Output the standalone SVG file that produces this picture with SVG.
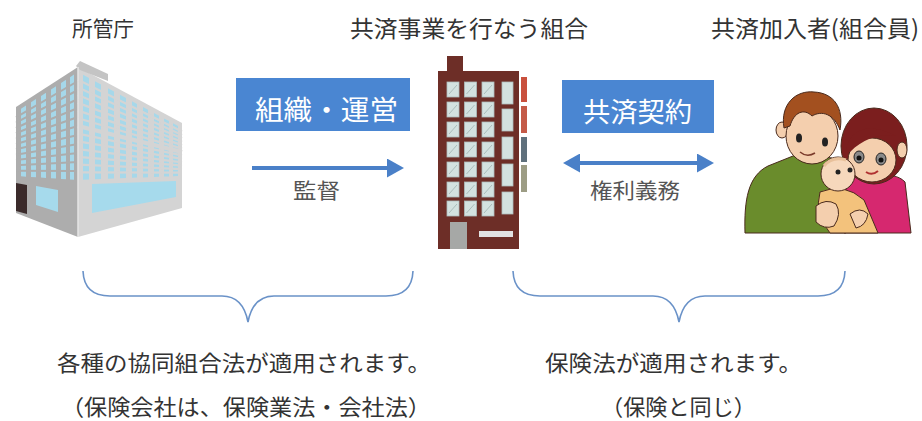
<svg xmlns="http://www.w3.org/2000/svg" width="922" height="421" viewBox="0 0 922 421">
<style>
text{font-family:"Noto Sans CJK JP","Noto Sans CJK SC",sans-serif;dominant-baseline:central;}
.title{font-size:22px;fill:#333;}
.box{fill:#4a86d2;}
.boxtxt{font-size:27px;fill:#fff;}
.small{font-size:21px;fill:#555;}
.law{font-size:22px;fill:#333;}
.arrow{stroke:#4a80c8;stroke-width:4;fill:none;}
.brace{stroke:#6a92c8;stroke-width:1.6;fill:none;}
.lwin{fill:#a6d8ea;}
.win{fill:#d3e2e0;stroke:#aebfbd;stroke-width:0.8;}
.outl{stroke:#4a2a1c;stroke-width:1;}
</style>
<defs>
<marker id="ah" markerUnits="userSpaceOnUse" markerWidth="17" markerHeight="19" refX="0" refY="9.5" orient="auto-start-reverse">
<path d="M0,0 L17,9.5 L0,19 Z" fill="#4a80c8"/>
</marker>
<g id="w"><rect class="win" x="0" y="0" width="12" height="15"/><path d="M2,12 L10,3" stroke="#9fb2b0" stroke-width="0.8"/></g>
<g id="tw"><rect class="win" x="0" y="0" width="11" height="22"/></g>
</defs>
<rect width="922" height="421" fill="#fff"/>

<!-- 所管庁 -->
<g id="node-gov">
<text class="title" x="72" y="27" textLength="62" lengthAdjust="spacingAndGlyphs" style="font-size:21px">所管庁</text>
<polygon points="16,107 78,67 78,237 16,213" fill="#adadad"/>
<polygon points="78,67 182,123 182,208 78,237" fill="#d4d4d4"/>
<polygon points="76,66 80,61 108,74 108,81 80,70" fill="#c4c4c4"/>
<g class="lwin">
<polygon points="21,108.8 26,105.5 26,176.7 21,176.3"/>
<polygon points="31,102.3 36,99.1 36,177.3 31,177"/>
<polygon points="41,95.9 46,92.7 46,178 41,177.6"/>
<polygon points="51,89.4 56,86.2 56,178.6 51,178.3"/>
<polygon points="61,83 66,79.8 66,179.3 61,178.9"/>
<polygon points="70,77.2 74,74.6 74,179.8 70,179.5"/>
</g>
<g stroke="#adadad" stroke-width="2">
<line x1="16" y1="117.3" x2="78" y2="81"/><line x1="16" y1="122.7" x2="78" y2="90"/>
<line x1="16" y1="128" x2="78" y2="99"/><line x1="16" y1="133.3" x2="78" y2="108"/>
<line x1="16" y1="138.7" x2="78" y2="117"/><line x1="16" y1="144" x2="78" y2="126"/>
<line x1="16" y1="149.3" x2="78" y2="135"/><line x1="16" y1="154.7" x2="78" y2="144"/>
<line x1="16" y1="160" x2="78" y2="153"/><line x1="16" y1="165.3" x2="78" y2="162"/>
<line x1="16" y1="170.7" x2="78" y2="171"/>
</g>
<g class="lwin">
<polygon points="83,74.7 89,77.9 89,179.6 83,179.8"/>
<polygon points="95,81.2 101,84.4 101,179.1 95,179.3"/>
<polygon points="108,88.2 114,91.4 114,178.6 108,178.8"/>
<polygon points="120,94.7 126,97.9 126,178.1 120,178.3"/>
<polygon points="132,101.2 137,103.9 137,177.6 132,177.8"/>
<polygon points="143,107.1 148,109.8 148,177.2 143,177.4"/>
<polygon points="154,113 159,115.7 159,176.8 154,177"/>
<polygon points="164,118.4 169,121.1 169,176.4 164,176.6"/>
<polygon points="173,123.3 178,126 178,176 173,176.2"/>
</g>
<g stroke="#d4d4d4" stroke-width="2.2">
<line x1="78" y1="79.7" x2="182" y2="131.4"/><line x1="78" y1="87.4" x2="182" y2="134.9"/>
<line x1="78" y1="95.1" x2="182" y2="138.3"/><line x1="78" y1="102.9" x2="182" y2="141.7"/>
<line x1="78" y1="110.6" x2="182" y2="145.1"/><line x1="78" y1="118.3" x2="182" y2="148.6"/>
<line x1="78" y1="126" x2="182" y2="152" stroke-width="4"/><line x1="78" y1="133.7" x2="182" y2="155.4"/>
<line x1="78" y1="141.4" x2="182" y2="158.9"/><line x1="78" y1="149.1" x2="182" y2="162.3"/>
<line x1="78" y1="156.9" x2="182" y2="165.7"/><line x1="78" y1="164.6" x2="182" y2="169.1"/>
<line x1="78" y1="172.3" x2="182" y2="172.6"/>
</g>
<line x1="78" y1="67" x2="78" y2="237" stroke="#e6e6e6" stroke-width="1.5"/>
<polygon points="92,184 176,181 176,197 92,213" fill="#a6daec"/>
<polygon points="16,183 27,185 27,214 16,211" fill="#3b2b2b"/>
<polygon points="36,186 58,190 58,212 36,205" fill="#a6daec"/>
</g>

<!-- 共済事業を行なう組合 -->
<g id="node-union">
<text class="title" x="350" y="27" textLength="238" lengthAdjust="spacingAndGlyphs" style="font-size:23px">共済事業を行なう組合</text>
<rect x="447" y="56" width="16" height="16" fill="#6d2e27"/>
<rect x="438" y="71" width="81" height="178" fill="#6d2e27"/>
<use href="#w" x="447" y="82"/><use href="#w" x="464.5" y="82"/><use href="#w" x="482" y="82"/>
<use href="#w" x="447" y="102"/><use href="#w" x="464.5" y="102"/><use href="#w" x="482" y="102"/>
<use href="#w" x="447" y="122"/><use href="#w" x="464.5" y="122"/><use href="#w" x="482" y="122"/>
<use href="#w" x="447" y="142"/><use href="#w" x="464.5" y="142"/><use href="#w" x="482" y="142"/>
<use href="#w" x="447" y="162"/><use href="#w" x="464.5" y="162"/><use href="#w" x="482" y="162"/>
<use href="#w" x="447" y="182"/><use href="#w" x="464.5" y="182"/><use href="#w" x="482" y="182"/>
<use href="#w" x="447" y="201"/><use href="#w" x="464.5" y="201"/><use href="#w" x="482" y="201"/>
<use href="#tw" x="502" y="82"/><use href="#tw" x="502" y="109"/><use href="#tw" x="502" y="137"/>
<use href="#tw" x="502" y="164"/><use href="#tw" x="502" y="192"/>
<rect x="450" y="222" width="17" height="27" fill="#a6a8a6"/>
<rect x="479" y="231" width="34" height="6" fill="#e2e2e2"/>
<rect x="521" y="77" width="6" height="25" fill="#c9503d"/>
<rect x="521" y="106" width="6" height="27" fill="#c45a47"/>
<rect x="521" y="137" width="6" height="25" fill="#5f707c"/>
<rect x="521" y="165" width="6" height="27" fill="#9c9c84"/>
</g>

<!-- 共済加入者 -->
<g id="node-members">
<text class="title" x="711" y="27" textLength="208" lengthAdjust="spacingAndGlyphs" style="font-size:23px">共済加入者(組合員)</text>
<path class="outl" d="M745,233 C744,200 748,176 768,166 L798,154 L832,158 L846,233 Z" fill="#6a8c2c"/>
<ellipse class="outl" cx="782" cy="130" rx="6" ry="8" fill="#f4cfae"/>
<ellipse class="outl" cx="812" cy="136" rx="26" ry="28" fill="#f4cfae"/>
<path class="outl" d="M784,128 C780,104 796,90 814,92 C834,93 844,108 840,130 C834,114 822,110 812,116 C804,108 794,112 790,126 Z" fill="#a3501f"/>
<ellipse cx="799" cy="138" rx="3" ry="4.5" fill="#222"/>
<ellipse cx="825" cy="142" rx="3" ry="4.5" fill="#222"/>
<path d="M800,152 Q807,158 815,153" stroke="#7a3a2a" stroke-width="1.5" fill="none"/>
<path class="outl" d="M846,182 C858,172 894,170 905,182 L911,233 L844,233 Z" fill="#d6286f"/>
<ellipse class="outl" cx="874" cy="146" rx="33" ry="38" fill="#7b1e1e"/>
<ellipse class="outl" cx="902" cy="150" rx="5" ry="8" fill="#f4cfae"/>
<ellipse class="outl" cx="872" cy="160" rx="24" ry="22" fill="#f4cfae"/>
<path d="M846,150 C850,128 870,122 896,136 C884,134 866,136 850,152 Z" fill="#7b1e1e"/>
<ellipse cx="859" cy="157" rx="5" ry="6" fill="#8a8a8a" stroke="#222" stroke-width="1"/>
<ellipse cx="881" cy="159" rx="5" ry="6" fill="#8a8a8a" stroke="#222" stroke-width="1"/>
<circle cx="859" cy="158" r="2.5" fill="#111"/>
<circle cx="881" cy="160" r="2.5" fill="#111"/>
<path d="M866,172 Q872,176 878,171" stroke="#b03030" stroke-width="2" fill="none"/>
<path class="outl" d="M820,192 Q844,182 864,200 L878,233 L830,233 Q814,214 820,192 Z" fill="#f3c27c"/>
<circle class="outl" cx="838" cy="174" r="17" fill="#f6d8bc"/>
<path d="M824,166 Q832,156 846,160" stroke="#e8c09a" stroke-width="3" fill="none"/>
<circle cx="838" cy="172" r="2.5" fill="#222"/>
<circle cx="850" cy="170" r="2.5" fill="#222"/>
<path class="outl" d="M816,206 Q826,198 836,204 Q842,214 834,226 Q824,230 816,222 Z" fill="#f4cfae"/>
<path class="outl" d="M850,214 Q860,206 868,214 Q866,226 856,228 Z" fill="#f4cfae"/>
</g>

<g id="label-org">
<rect class="box" x="236" y="78" width="174" height="53"/>
<text class="boxtxt" x="255" y="108" textLength="143" lengthAdjust="spacingAndGlyphs">組織・運営</text>
</g>
<g id="label-contract">
<rect class="box" x="562" y="80" width="152" height="53"/>
<text class="boxtxt" x="583" y="110" textLength="109" lengthAdjust="spacingAndGlyphs">共済契約</text>
</g>

<g id="connectors">
<line class="arrow" x1="252" y1="168" x2="387" y2="168" marker-end="url(#ah)"/>
<line class="arrow" x1="580" y1="163" x2="697" y2="163" marker-start="url(#ah)" marker-end="url(#ah)"/>
<path class="brace" d="M83,271 Q84,296 110,296 L222,296 Q243,296 248,322 Q253,296 274,296 L386,296 Q412,296 413,271"/>
<path class="brace" d="M513,271 Q514,296 540,296 L653,296 Q674,296 679,322 Q684,296 705,296 L818,296 Q844,296 845,271"/>
</g>
<text class="small" x="293" y="189" textLength="47" lengthAdjust="spacingAndGlyphs">監督</text>
<text class="small" x="590" y="189" textLength="90" lengthAdjust="spacingAndGlyphs">権利義務</text>

<g id="law-left">
<text class="law" x="57" y="361" textLength="374" lengthAdjust="spacingAndGlyphs">各種の協同組合法が適用されます。</text>
<text class="law" x="61" y="405" textLength="370" lengthAdjust="spacingAndGlyphs">（保険会社は、保険業法・会社法）</text>
</g>
<g id="law-right">
<text class="law" x="545" y="361" textLength="257" lengthAdjust="spacingAndGlyphs">保険法が適用されます。</text>
<text class="law" x="601" y="405" textLength="155" lengthAdjust="spacingAndGlyphs">（保険と同じ）</text>
</g>
</svg>
